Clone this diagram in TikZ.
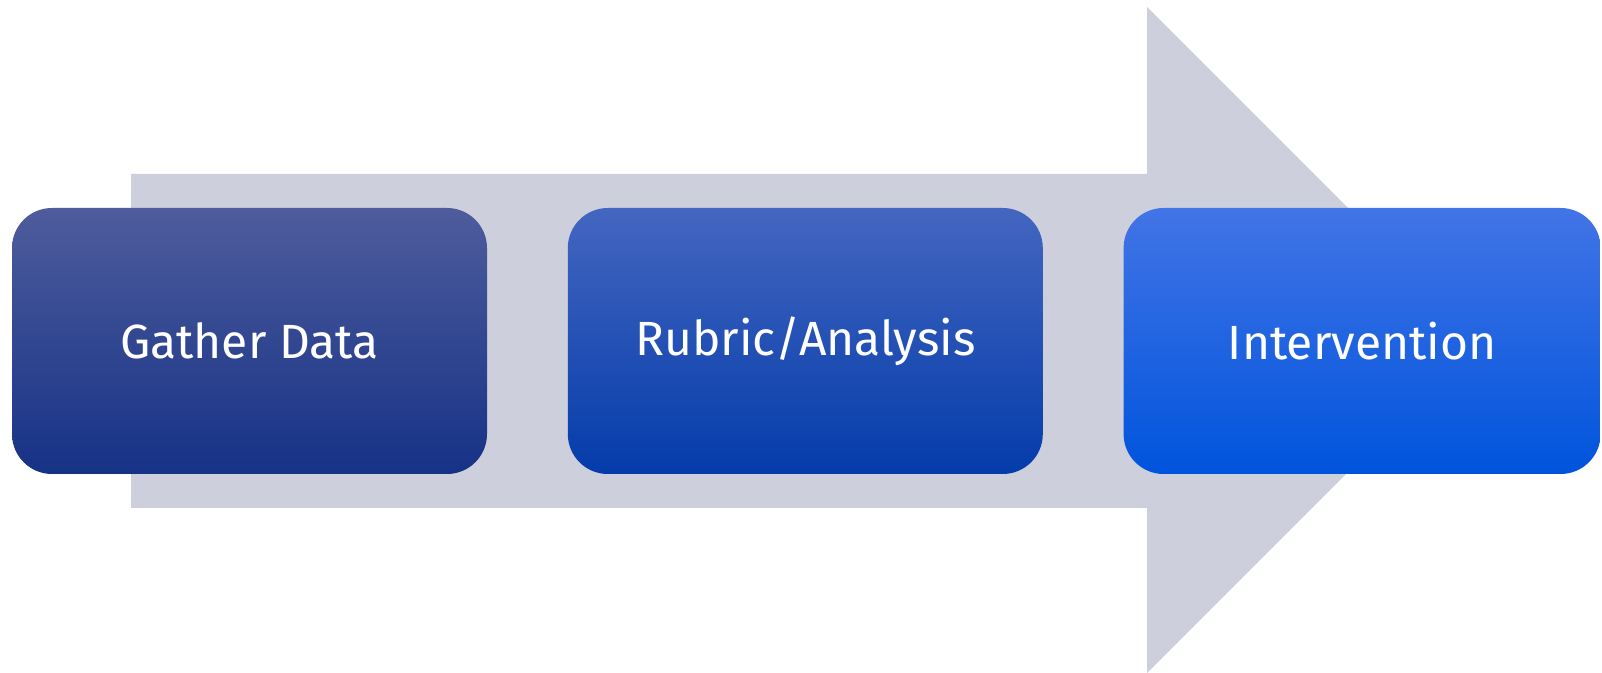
\documentclass[tikz,border=0pt]{standalone}
\usepackage{fontspec}
\setmainfont{Fira Sans}
\usepackage{tikz}
\usetikzlibrary{positioning}
\definecolor{arrowgray}{RGB}{205, 207, 220}
\definecolor{gathertop}{RGB}{78, 92, 156}
\definecolor{gatherbot}{RGB}{22, 50, 134}
\definecolor{rubrictop}{RGB}{68, 102, 192}
\definecolor{rubricbot}{RGB}{4, 60, 170}
\definecolor{intervtop}{RGB}{66, 116, 230}
\definecolor{intervbot}{RGB}{0, 84, 220}

\begin{document}
\begin{tikzpicture}[
    x=0.5pt, y=-0.5pt,
    stage/.style={rounded corners=20pt, minimum width=237.5pt, minimum height=133pt,
                  align=center, text=white, font=\fontsize{24}{28}\selectfont,
                  inner sep=0pt},
  ]
    \useasboundingbox (0,0) rectangle (1602,673);
    \fill[white] (0,0) rectangle (1602,673);

    % Big arrow behind
    \fill[arrowgray] (131,174) -- (1147,174) -- (1147,7) -- (1480,340)
      -- (1147,673) -- (1147,508) -- (131,508) -- cycle;

    % Step 1
    \node[stage, top color=gathertop, bottom color=gatherbot] (gather) at (249.5,341) {Gather Data};

    % Step 2
    \node[stage, top color=rubrictop, bottom color=rubricbot, right=40pt of gather] (rubric) {Rubric/Analysis};

    % Step 3
    \node[stage, top color=intervtop, bottom color=intervbot, minimum width=238.5pt,
          right=40pt of rubric] (interv) {Intervention};
  \end{tikzpicture}
\end{document}
